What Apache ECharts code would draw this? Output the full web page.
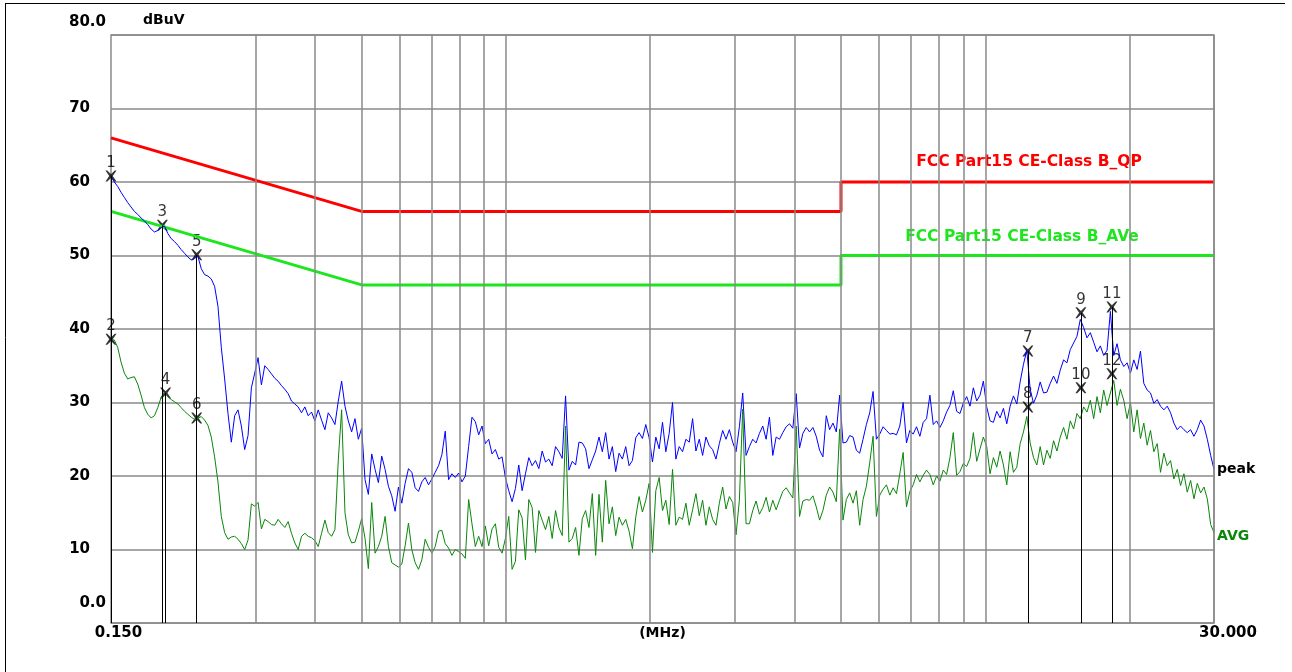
<!DOCTYPE html>
<html>
<head>
<meta charset="utf-8">
<script src="https://cdn.jsdelivr.net/npm/echarts@6/dist/echarts.min.js"></script>
<style>html,body{margin:0;padding:0;background:#fff}#c{width:1292px;height:672px}</style>
</head>
<body>
<div id="c"></div>
<script>
// ---- data ----
const F_START = 0.15, F_STOP = 30;           // sweep range (MHz)
const PEAK = [
60.7,60.0,59.4,58.6,57.9,57.2,56.6,56.0,55.6,55.1,
54.7,54.2,53.6,53.2,53.4,53.8,54.0,53.0,52.3,51.9,
51.4,50.8,50.3,49.8,49.4,49.6,49.9,48.2,47.4,47.2,
46.8,45.8,43.1,37.5,33.2,28.5,24.6,28.2,29.0,26.8,
23.6,25.5,32.0,34.0,36.1,32.4,35.0,34.5,33.9,33.3,
32.9,32.3,31.8,31.2,30.2,29.8,29.4,28.6,29.4,28.2,
28.7,27.5,29.0,27.6,26.3,28.6,27.9,27.0,30.2,32.9,
29.5,27.5,26.0,27.8,25.0,26.5,19.5,17.5,23.0,20.9,
19.1,22.7,20.9,18.6,17.3,15.2,18.5,16.3,19.0,21.0,
20.5,18.4,17.9,19.2,19.8,18.8,19.6,20.5,21.4,22.9,
26.1,19.5,20.3,19.8,20.4,19.2,20.0,24.0,28.0,27.4,
25.6,26.8,24.4,25.0,23.0,23.6,22.3,22.6,19.8,18.0,
16.5,18.3,21.5,18.0,20.3,22.5,21.4,22.1,21.0,23.4,
21.9,22.3,21.4,24.0,23.3,22.4,30.9,20.8,22.0,21.5,
24.6,24.5,23.7,21.0,22.2,23.4,25.3,23.3,25.9,22.3,
24.0,20.6,23.1,22.3,24.0,21.4,22.1,25.2,25.9,25.1,
27.0,25.2,21.9,25.3,23.7,27.3,23.3,25.8,30.0,22.3,
24.0,23.3,25.0,24.6,27.8,23.4,25.0,22.8,25.3,24.1,
23.6,22.3,24.4,26.2,25.0,26.3,24.6,23.3,26.7,31.3,
22.8,24.0,25.0,24.5,25.8,26.8,25.0,28.0,22.8,25.3,
25.0,25.9,26.7,27.1,26.5,31.2,23.8,25.8,26.6,26.0,
26.6,25.4,23.5,22.6,28.2,26.3,27.2,26.0,31.0,24.5,
24.6,25.5,25.3,23.5,23.1,25.0,27.0,28.6,31.5,25.0,
25.7,26.7,26.2,25.7,25.8,25.6,26.8,30.0,24.5,26.2,
25.7,26.7,25.4,27.3,27.8,31.0,27.0,27.5,26.6,27.5,
28.7,29.6,31.6,28.8,28.5,29.9,30.8,29.5,32.0,30.2,
31.0,32.9,29.4,27.5,27.3,28.8,27.9,29.2,27.1,29.5,
30.9,29.8,32.8,35.2,37.1,31.8,29.9,31.0,32.8,31.3,
31.4,32.6,33.6,32.6,34.4,35.8,35.4,37.2,38.1,39.0,
41.3,40.2,38.8,39.5,38.2,36.9,37.7,36.4,37.1,42.4,
36.4,38.0,35.8,34.9,35.4,34.0,35.8,34.5,37.0,32.6,
31.7,31.3,29.9,30.4,29.5,29.0,29.5,28.6,27.2,26.3,
26.8,26.3,25.9,26.3,25.4,26.3,27.6,26.8,25.0,22.8,20.9
];
const AVG = [
38.6,38.5,37.5,35.5,34.0,33.2,33.4,33.5,32.5,31.0,
29.3,28.4,27.9,28.2,29.3,30.7,31.4,30.8,30.4,30.1,
29.8,29.3,28.8,28.4,28.0,27.7,27.8,28.1,27.6,26.9,
25.3,22.6,19.2,14.5,12.3,11.4,11.7,11.8,11.4,10.8,
10.0,11.3,16.2,15.9,16.4,12.8,14.1,13.8,13.4,13.3,
14.1,13.5,13.0,13.8,12.2,10.9,10.0,11.8,12.2,11.8,
11.6,11.2,10.4,12.2,14.0,12.3,11.8,12.7,22.2,29.0,
15.0,12.0,10.9,11.0,12.5,14.2,11.5,7.4,16.4,9.5,
10.4,11.8,14.5,10.4,8.2,7.9,7.6,8.0,10.5,13.6,
10.0,8.2,7.3,8.6,11.4,10.3,9.5,10.4,12.5,12.6,
10.8,10.2,9.2,10.0,9.7,9.4,8.8,16.8,13.5,10.4,
11.8,10.4,13.2,10.5,12.8,13.5,10.3,9.5,11.5,14.5,
7.3,8.4,15.4,14.3,8.6,16.8,15.7,9.6,15.3,14.0,
12.7,14.5,11.5,15.3,13.0,11.9,26.8,11.0,11.5,13.0,
9.2,14.2,15.3,13.0,17.6,9.2,17.5,11.0,19.4,13.5,
15.8,11.9,14.4,13.3,14.1,12.5,10.1,14.4,17.2,15.1,
16.7,19.0,9.6,18.0,19.8,15.3,16.7,13.4,20.9,13.3,
14.4,14.1,16.3,13.3,15.4,17.6,14.6,16.7,13.3,15.8,
14.1,13.3,16.3,18.5,15.5,17.2,16.4,12.0,16.7,29.1,
13.5,13.5,15.3,16.6,14.8,15.7,17.1,15.1,16.7,15.4,
16.7,17.9,18.4,17.7,17.0,26.8,14.5,16.6,16.8,16.7,
17.3,15.8,14.0,15.3,17.4,18.5,17.8,16.5,26.4,14.0,
16.8,17.7,16.3,18.0,13.3,16.8,18.6,21.8,25.4,14.5,
17.4,18.2,18.8,17.4,18.4,17.6,20.3,23.2,15.8,17.9,
18.8,20.2,19.2,20.1,20.8,20.2,18.8,20.0,19.3,20.8,
20.2,22.5,25.9,20.1,20.6,21.7,21.3,22.4,25.9,22.0,
23.7,25.3,24.0,20.3,22.5,21.2,23.4,21.5,18.8,23.3,
20.5,21.2,24.4,26.0,28.1,24.5,22.5,21.5,24.0,21.5,
23.5,22.4,24.8,23.4,25.3,26.6,25.0,27.5,26.4,28.5,
27.8,29.4,28.7,30.3,27.8,30.8,28.6,31.7,29.6,31.3,
33.0,29.6,31.8,30.3,27.8,30.0,26.0,29.0,25.1,27.2,
24.2,26.2,23.3,24.4,20.5,23.1,21.4,22.1,19.6,20.9,
18.7,20.3,17.8,19.4,16.9,19.0,17.7,18.5,16.9,13.4,12.3
];
const QP_LIMIT_FREQ = [0.15, 0.5, 5, 5, 30];
const QP_LIMIT = [66, 56, 56, 60, 60];
const AV_LIMIT_FREQ = [0.15, 0.5, 5, 5, 30];
const AV_LIMIT = [56, 46, 46, 50, 50];
const MARKER_NO = ['1','2','3','4','5','6','7','8','9','10','11','12'];
const MARKER_FREQ = [0.15, 0.15, 0.192, 0.195, 0.2264, 0.2264, 12.27, 12.27, 15.83, 15.83, 18.37, 18.37];
const MARKER_LEVEL = [60.8, 38.6, 54.1, 31.3, 50.1, 27.9, 37.0, 29.4, 42.2, 32.0, 43.0, 33.9];
const GRID_FREQS = [0.3,0.4,0.5,0.6,0.7,0.8,0.9,1,2,3,4,5,6,7,8,9,10,20,30];
const X_TICK_LABELS = ['0.150', '30.000'];
const Y_TICK_LABELS = ['0.0','10','20','30','40','50','60','70','80.0'];
const QP_NAME = 'FCC Part15 CE-Class B_QP';
const AV_NAME = 'FCC Part15 CE-Class B_AVe';

// ---- build ----
const FONT = '"DejaVu Sans", sans-serif';
const N = PEAK.length;
const SWEEP = PEAK.map((_, i) => F_START * Math.pow(F_STOP / F_START, i / (N - 1)));
const peakData = PEAK.map((v, i) => [SWEEP[i], v]);
const avgData = AVG.map((v, i) => [SWEEP[i], v]);
const qpData = QP_LIMIT.map((v, i) => [QP_LIMIT_FREQ[i], v]);
const avData = AV_LIMIT.map((v, i) => [AV_LIMIT_FREQ[i], v]);
const markerData = MARKER_NO.map((n, i) => ({ value: [MARKER_FREQ[i], MARKER_LEVEL[i]], name: n }));
const markerLines = MARKER_NO.map((n, i) => [
  { coord: [MARKER_FREQ[i], MARKER_LEVEL[i]] },
  { coord: [MARKER_FREQ[i], 0] }
]);
const X_PATH = 'path://M0,0 L1.6,0 L5,3.4 L8.4,0 L10,0 L6.6,5 L10,10 L8.4,10 L5,6.6 L1.6,10 L0,10 L3.4,5 Z';

const chart = echarts.init(document.getElementById('c'), null, { renderer: 'canvas' });
chart.setOption({
  animation: false,
  backgroundColor: '#fff',
  grid: { left: 111, right: 78, top: 35, bottom: 49, show: true, borderColor: '#8a8a8a', borderWidth: 1.5 },
  xAxis: {
    type: 'log', logBase: 10, min: F_START, max: F_STOP,
    name: '(MHz)', nameLocation: 'middle', nameGap: 3, nameMoveOverlap: false,
    nameTextStyle: { fontFamily: FONT, fontWeight: 'bold', fontSize: 14, color: '#000', verticalAlign: 'top' },
    axisLine: { show: false }, axisTick: { show: false }, splitLine: { show: false },
    axisLabel: {
      show: true, interval: 0, showMinLabel: true, showMaxLabel: true, margin: 3,
      formatter: function (v) {
        if (Math.abs(v - F_START) < 1e-6) return '{a|' + X_TICK_LABELS[0] + '}';
        if (Math.abs(v - F_STOP) < 1e-6) return '{b|' + X_TICK_LABELS[1] + '}';
        return '';
      },
      rich: {
        a: { fontFamily: FONT, fontWeight: 'bold', fontSize: 15, color: '#000', padding: [0, 0, 0, 15] },
        b: { fontFamily: FONT, fontWeight: 'bold', fontSize: 15, color: '#000', padding: [0, 0, 0, 28] }
      }
    }
  },
  yAxis: {
    type: 'value', min: 0, max: 80, interval: 10,
    name: 'dBuV', nameLocation: 'end', nameGap: 15, nameMoveOverlap: false,
    nameTextStyle: { fontFamily: FONT, fontWeight: 'bold', fontSize: 14, color: '#000', align: 'left', verticalAlign: 'middle', padding: [0, 0, 0, 32] },
    axisLine: { show: false }, axisTick: { show: false },
    splitLine: { show: true, lineStyle: { color: '#8a8a8a', width: 1.5 } },
    axisLabel: {
      margin: 5,
      formatter: function (v, idx) {
        const t = Y_TICK_LABELS[idx];
        if (idx === 0) return '{bot|' + t + '}';
        if (idx === Y_TICK_LABELS.length - 1) return '{top|' + t + '}';
        return '{mid|' + t + '}';
      },
      rich: {
        mid: { fontFamily: FONT, fontWeight: 'bold', fontSize: 15, color: '#000', padding: [0, 16, 0, 0] },
        top: { fontFamily: FONT, fontWeight: 'bold', fontSize: 15, color: '#000', padding: [0, 0, 26, 0] },
        bot: { fontFamily: FONT, fontWeight: 'bold', fontSize: 15, color: '#000', padding: [0, 0, 40, 0] }
      }
    }
  },
  graphic: [
    { type: 'line', shape: { x1: 5.5, y1: 3, x2: 5.5, y2: 672 }, style: { stroke: '#000', lineWidth: 1 }, silent: true },
    { type: 'line', shape: { x1: 5, y1: 3.5, x2: 1285, y2: 3.5 }, style: { stroke: '#000', lineWidth: 1 }, silent: true },
    { type: 'text', x: 1029, y: 162, silent: true,
      style: { text: QP_NAME, fill: '#ff0000', font: 'bold 15.5px ' + FONT, align: 'center', verticalAlign: 'middle' } },
    { type: 'text', x: 1022, y: 237, silent: true,
      style: { text: AV_NAME, fill: '#1ee61e', font: 'bold 15.5px ' + FONT, align: 'center', verticalAlign: 'middle' } }
  ],
  series: [
    {
      type: 'line', name: 'grid', data: [], silent: true,
      markLine: {
        silent: true, symbol: ['none', 'none'], label: { show: false }, animation: false,
        lineStyle: { color: '#8a8a8a', width: 1.5, type: 'solid' },
        data: GRID_FREQS.map(f => ({ xAxis: f }))
      }
    },
    {
      type: 'line', name: 'QP', data: qpData, showSymbol: false, silent: true,
      lineStyle: { color: '#ff0000', width: 3 }
    },
    {
      type: 'line', name: 'AV', data: avData, showSymbol: false, silent: true,
      lineStyle: { color: '#1ee61e', width: 3 }
    },
    {
      type: 'line', name: 'peak', data: peakData, showSymbol: false, silent: true,
      lineStyle: { color: '#0000ff', width: 1 },
      endLabel: { show: true, formatter: 'peak', fontFamily: FONT, fontWeight: 'bold', fontSize: 14, color: '#000', distance: 3 }
    },
    {
      type: 'line', name: 'AVG', data: avgData, showSymbol: false, silent: true,
      lineStyle: { color: '#0a860a', width: 1 },
      endLabel: { show: true, formatter: 'AVG', fontFamily: FONT, fontWeight: 'bold', fontSize: 14, color: '#0a860a', distance: 3, offset: [0, 4] }
    },
    {
      type: 'scatter', name: 'markers', data: markerData, clip: false, silent: true,
      symbol: X_PATH, symbolSize: 11, itemStyle: { color: '#000' },
      label: { show: true, position: 'top', distance: 0, formatter: p => p.name, fontFamily: FONT, fontSize: 15, color: '#000' },
      markLine: {
        silent: true, symbol: ['none', 'none'], label: { show: false }, animation: false,
        lineStyle: { color: '#000', width: 1, type: 'solid' },
        data: markerLines
      }
    }
  ]
});
</script>
</body>
</html>
